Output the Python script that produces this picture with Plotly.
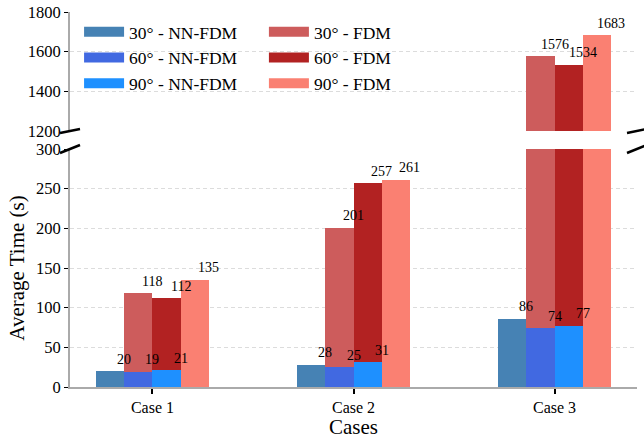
import plotly.graph_objects as go

# Average solve time per case, split by angle and solver
cases = ["Case 1", "Case 2", "Case 3"]
angles = ["30°", "60°", "90°"]

nn_fdm_30 = [20, 28, 86]
nn_fdm_60 = [19, 25, 74]
nn_fdm_90 = [21, 31, 77]

fdm_30 = [118, 201, 1576]
fdm_60 = [112, 257, 1534]
fdm_90 = [135, 261, 1683]

nn_colors = ["#4682B4", "#4169E1", "#1E90FF"]
fdm_colors = ["#CD5C5C", "#B22222", "#FA8072"]

# axis break: lower panel 0-300, upper panel 1200-1800
low_range = [0, 300]
high_range = [1200, 1800]

FONT = "Liberation Serif"
W = 0.14  # bar width in category units

W_PX, H_PX = 644, 439
L, R, T, B = 70, 7, 12, 52
plot_h = H_PX - T - B
low_top = (387 - 149) / plot_h
high_bot = (387 - 131) / plot_h

nn_series = [nn_fdm_30, nn_fdm_60, nn_fdm_90]
fdm_series = [fdm_30, fdm_60, fdm_90]
nn_offsets = [-1.5 * W, -0.5 * W, 0.5 * W]
fdm_offsets = [-0.5 * W, 0.5 * W, 1.5 * W]
xs = list(range(len(cases)))

fig = go.Figure()
annotations = []

# FDM bars go underneath, drawn in both panels
for vals, off, col in zip(fdm_series, fdm_offsets, fdm_colors):
    bx = [x + off for x in xs]
    for ax in ("y", "y2"):
        fig.add_trace(go.Bar(x=bx, y=vals, width=W, marker=dict(color=col, line=dict(width=0)),
                             yaxis=ax, showlegend=False, hoverinfo="skip"))

# NN-FDM bars on top (all values sit in the lower panel)
for vals, off, col in zip(nn_series, nn_offsets, nn_colors):
    bx = [x + off for x in xs]
    fig.add_trace(go.Bar(x=bx, y=vals, width=W, marker=dict(color=col, line=dict(width=0)),
                         yaxis="y", showlegend=False, hoverinfo="skip"))

# value labels, placed at each bar's right edge
for series, offsets in ((nn_series, nn_offsets), (fdm_series, fdm_offsets)):
    for vals, off in zip(series, offsets):
        for x, v in zip(xs, vals):
            yref = "y" if v <= low_range[1] else "y2"
            annotations.append(dict(x=x + off + W / 2, y=v, xref="x", yref=yref, text=str(v),
                                    showarrow=False, yanchor="middle", yshift=12,
                                    font=dict(family=FONT, size=14, color="black")))

# legend entries
for ang, col in zip(angles, nn_colors):
    fig.add_trace(go.Scatter(x=[None], y=[None], mode="lines", line=dict(color=col, width=13),
                             name=f"{ang} - NN-FDM", legend="legend"))
for ang, col in zip(angles, fdm_colors):
    fig.add_trace(go.Scatter(x=[None], y=[None], mode="lines", line=dict(color=col, width=13),
                             name=f"{ang} - FDM", legend="legend2"))

# break marks on both sides of the gap
def px_to_paper(px, py):
    return (px - L) / (W_PX - L - R), (H_PX - B - py) / plot_h

shapes = []
for cx in (L, W_PX - R):
    for cy in (131, 149):
        dy = 2 if cy == 131 else 4
        x0, y0 = px_to_paper(cx - 10, cy + dy)
        x1, y1 = px_to_paper(cx + 10, cy - dy)
        shapes.append(dict(type="line", xref="paper", yref="paper", x0=x0, y0=y0, x1=x1, y1=y1,
                           line=dict(color="black", width=2.5)))

yaxis_common = dict(
    ticks="outside", ticklen=4, tickwidth=1, tickcolor="black",
    showline=True, linecolor="#aaaaaa", linewidth=2,
    showgrid=True, gridcolor="#dcdcdc", gridwidth=1, griddash="4px,3px",
    zeroline=False, automargin=False,
    tickfont=dict(family=FONT, size=16.5, color="black"),
)

legend_common = dict(
    font=dict(family=FONT, size=17.5, color="black"), bgcolor="rgba(0,0,0,0)",
    xanchor="left", yanchor="top", y=0.995, tracegroupgap=0, itemwidth=40,
)

fig.update_layout(
    template="none",
    width=W_PX, height=H_PX,
    margin=dict(l=L, r=R, t=T, b=B, autoexpand=False),
    paper_bgcolor="white", plot_bgcolor="white",
    barmode="overlay", bargap=0,
    font=dict(family=FONT, color="black"),
    xaxis=dict(
        domain=[0, 1], range=[-0.41, 2.41], anchor="y",
        tickvals=xs, ticktext=cases,
        ticks="outside", ticklen=5, tickwidth=2, tickcolor="black",
        showline=True, linecolor="#aaaaaa", linewidth=2, showgrid=False, zeroline=False,
        automargin=False,
        tickfont=dict(family=FONT, size=16, color="black"),
        title=dict(text="Cases", font=dict(family=FONT, size=21, color="black"), standoff=1),
    ),
    yaxis=dict(
        domain=[0, low_top], range=low_range, dtick=50, tick0=0, anchor="x",
        title=dict(text="Average Time (s)", font=dict(family=FONT, size=21, color="black"), standoff=6),
        **yaxis_common,
    ),
    yaxis2=dict(domain=[high_bot, 1], range=high_range, dtick=200, tick0=1200, anchor="x", **yaxis_common),
    legend=dict(x=0.016, **legend_common),
    legend2=dict(x=0.342, **legend_common),
    annotations=annotations,
    shapes=shapes,
)

fig.write_html("out.html")
